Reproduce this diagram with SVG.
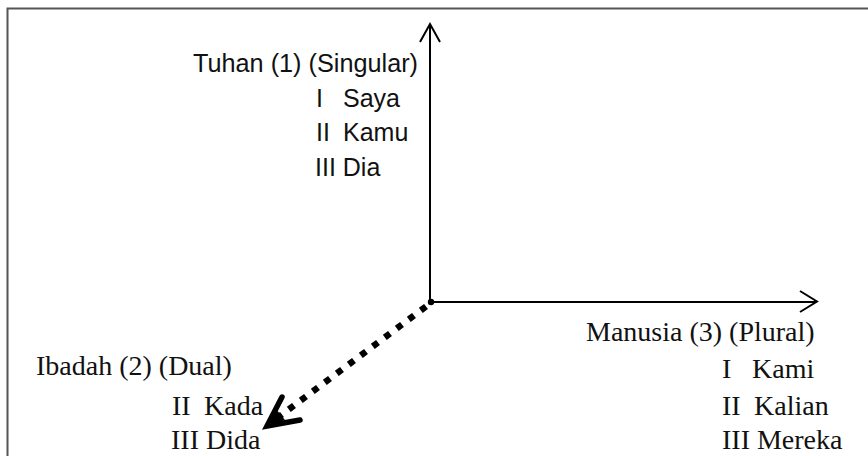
<svg xmlns="http://www.w3.org/2000/svg" width="868" height="456" viewBox="0 0 868 456">
<style>
.sans{font-family:"Liberation Sans",Arial,sans-serif;font-size:25px;fill:#111}
.serif{font-family:"Liberation Serif","Times New Roman",serif;font-size:28px;fill:#111}
.axis{stroke:#000;stroke-width:2;fill:none}
.head{stroke:#000;stroke-width:2;fill:none;stroke-linejoin:miter}
</style>
<rect x="0" y="0" width="868" height="456" fill="#fff"/>
<path d="M7.5 456 V8.5 H868" fill="none" stroke="#555" stroke-width="2"/>
<g id="connectors">
  <line class="axis" x1="430" y1="303" x2="430" y2="25"/>
  <polyline class="head" points="420,42 430,24 440,42"/>
  <line class="axis" x1="430" y1="302" x2="816" y2="302"/>
  <polyline class="head" points="800,291 817,301.5 800,312"/>
  <circle cx="431" cy="302" r="3.2" fill="#000"/>
  <line x1="426" y1="306.5" x2="276" y2="419" stroke="#000" stroke-width="6.5" stroke-dasharray="6.5 8.5"/>
  <polyline points="282,397 267,426 300,420" fill="none" stroke="#000" stroke-width="5.5" stroke-linejoin="miter" stroke-linecap="round"/>
  <polygon points="267,426 276,409 285,420" fill="#000"/>
</g>
<g id="tuhan">
  <text class="sans" x="193" y="72" textLength="225" lengthAdjust="spacingAndGlyphs">Tuhan (1) (Singular)</text>
  <text class="sans" x="316" y="107">I</text><text class="sans" x="343" y="107">Saya</text>
  <text class="sans" x="316" y="141">II</text><text class="sans" x="343" y="141">Kamu</text>
  <text class="sans" x="315" y="176">III Dia</text>
</g>
<g id="manusia">
  <text class="serif" x="586" y="341">Manusia (3) (Plural)</text>
  <text class="serif" x="722" y="378">I</text><text class="serif" x="752" y="378">Kami</text>
  <text class="serif" x="722" y="415">II</text><text class="serif" x="754" y="415">Kalian</text>
  <text class="serif" x="722" y="449">III Mereka</text>
</g>
<g id="ibadah">
  <text class="serif" x="36" y="375">Ibadah (2) (Dual)</text>
  <text class="serif" x="172" y="415">II</text><text class="serif" x="204" y="415">Kada</text>
  <text class="serif" x="171" y="449">III Dida</text>
</g>
</svg>
